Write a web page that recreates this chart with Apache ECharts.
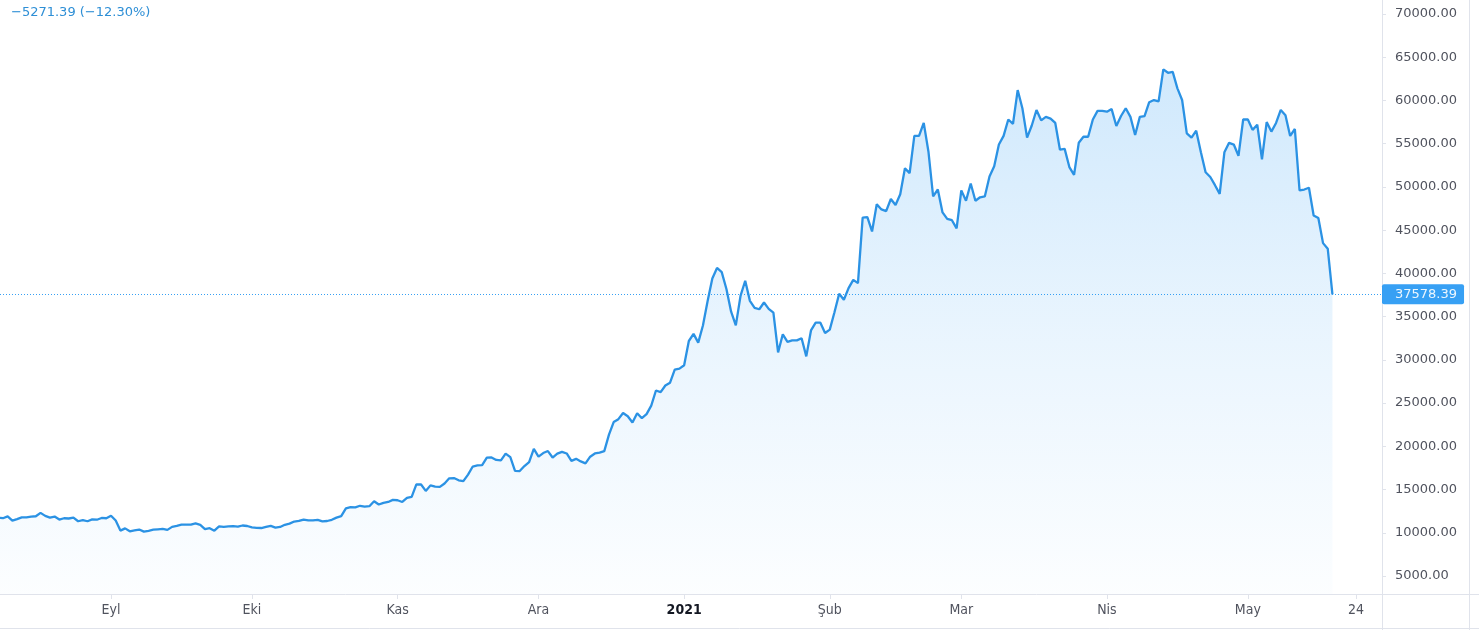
<!DOCTYPE html>
<html><head><meta charset="utf-8">
<script src="https://cdn.jsdelivr.net/npm/echarts@6/dist/echarts.min.js"></script>
<style>html,body{margin:0;padding:0;background:#fff}#c{width:1479px;height:630px}</style>
</head><body><div id="c"></div>
<script>
// ---- data (daily closes) ----
const startDate = '2020-08-07';
const augCloses = [11600,11760,11680,11890,11400,11580,11780,11770,11860,11910,12300,11950,11750,11870,11530,11680,11650,11750,11330,11470,11330,11540,11510,11710,11680];
const sepCloses = [11970,11410,10250,10510,10170,10280,10370,10130,10230,10360,10400,10440,10330,10680,10790,10950,10940,10930,11080,10920,10420,10530,10240,10740,10690,10730,10770,10700,10840,10780];
const octCloses = [10620,10570,10550,10670,10790,10600,10670,10920,11060,11300,11370,11530,11430,11430,11500,11320,11360,11500,11750,11920,12820,12970,12930,13120,13030,13070,13650,13270,13460,13560,13800];
const novCloses = [13760,13560,14030,14150,15590,15580,14840,15480,15330,15300,15700,16300,16330,16070,15970,16730,17660,17800,17820,18680,18710,18420,18370,19160,18740,17150,17140,17720,18180,19700];
const decCloses = [18800,19220,19450,18700,19150,19360,19170,18320,18550,18250,18030,18800,19170,19270,19440,21350,22800,23140,23850,23480,22750,23830,23250,23720,24700,26450,26270,27030,27360,28860,28980];
const janCloses = [29370,32180,33000,31990,33980,36810,39400,40630,40150,38200,35570,33990,37390,39150,36820,36020,35850,36630,35900,35470,30850,32950,32080,32260,32250,32500,30400,33400,34300,34300,33100];
const febCloses = [33500,35500,37650,36950,38300,39250,38870,46450,46500,44850,48000,47400,47200,48600,47900,49150,52150,51600,55900,55900,57400,54100,48900,49700,47050,46300,46150,45200];
const marCloses = [49600,48400,50400,48400,48800,48900,51200,52400,54900,55900,57800,57300,61200,59100,55700,57100,58900,57700,58100,57900,57400,54300,54400,52300,51400,55100,55800,55800,57800,58800,58800];
const aprCloses = [58700,59000,57050,58200,59100,58100,56000,58100,58200,59800,60050,59900,63600,63200,63300,61400,60050,56200,55700,56500,54000,51700,51150,50200,49200,54000,55100,54900,53600,57800];
const mayCloses = [57800,56600,57200,53200,57500,56400,57400,58900,58300,55900,56700,49600,49700,49900,46700,46400,43500,42850,37578.39];

const tickDates = ['2020-09-01','2020-10-01','2020-11-01','2020-12-01','2021-01-01','2021-02-01','2021-03-01','2021-04-01','2021-05-01','2021-05-24'];
const tickLabels = ['Eyl','Eki','Kas','Ara','2021','Şub','Mar','Nis','May','24'];
const priceTicks = [5000,10000,15000,20000,25000,30000,35000,40000,45000,50000,55000,60000,65000,70000];
const changeText = '\u22125271.39 (\u221212.30%)';
const lastPrice = 37578.39;

// ---- build ----
const closes = [].concat(augCloses,sepCloses,octCloses,novCloses,decCloses,janCloses,febCloses,marCloses,aprCloses,mayCloses);
const ORIGIN = Date.UTC(2020,8,1);
function dayOf(s){const p=s.split('-').map(Number);return Math.round((Date.UTC(p[0],p[1]-1,p[2])-ORIGIN)/86400000);}
const startDay = dayOf(startDate);
const seriesData = closes.map((v,i)=>[startDay+i, v]);
const tickDays = tickDates.map(dayOf);

const axisGrey = '#e0e3eb';
const textGrey = '#50535e';
const chart = echarts.init(document.getElementById('c'), null, {renderer:'canvas'});
chart.setOption({
  animation:false,
  backgroundColor:'#ffffff',
  title:{text:changeText,left:11,top:6,padding:0,textStyle:{color:'#2e8fd6',fontSize:13,fontWeight:'normal',fontFamily:'DejaVu Sans'}},
  grid:{left:0,right:97,top:0,bottom:36},
  xAxis:{
    type:'value',min:-23.63,max:270.55,
    axisLine:{show:true,onZero:false,lineStyle:{color:axisGrey}},
    axisTick:{show:true,customValues:tickDays,length:5,lineStyle:{color:axisGrey}},
    splitLine:{show:false},
    axisLabel:{customValues:tickDays,margin:9,color:textGrey,fontSize:14,
      fontFamily:"'Liberation Sans Narrow','DejaVu Sans Condensed',sans-serif",
      formatter:function(v){const i=tickDays.indexOf(Math.round(v));const t=tickLabels[i];return t==='2021'?'{b|2021}':t;},
      rich:{b:{fontWeight:'bold',fontSize:14,color:'#131722',fontFamily:"'Liberation Sans Narrow','DejaVu Sans Condensed',sans-serif"}}}
  },
  yAxis:{
    type:'value',position:'right',min:2917,max:71619,
    axisLine:{show:true,onZero:false,lineStyle:{color:axisGrey}},
    axisTick:{show:true,customValues:priceTicks,length:4,lineStyle:{color:axisGrey}},
    splitLine:{show:false},
    axisLabel:{customValues:priceTicks,margin:13,color:textGrey,fontSize:13,fontFamily:'DejaVu Sans',
      formatter:function(v){return v.toFixed(2);}}
  },
  series:[{
    type:'line',data:seriesData,showSymbol:false,symbol:'none',clip:true,
    lineStyle:{color:'#2b92e4',width:2.3},
    areaStyle:{color:new echarts.graphic.LinearGradient(0,0,0,1,[
      {offset:0,color:'rgba(33,150,243,0.30)'},
      {offset:0.5,color:'rgba(33,150,243,0.14)'},
      {offset:1,color:'rgba(33,150,243,0.02)'}])},
    markLine:{silent:true,symbol:'none',
      lineStyle:{color:'#2196f3',type:[1,2],width:1,opacity:0.9},
      label:{show:true,position:'end',distance:0,formatter:lastPrice.toFixed(2),
        backgroundColor:'#2196f3',color:'#ffffff',fontSize:13,fontFamily:'DejaVu Sans',
        padding:[4,7,3,13],borderRadius:2},
      emphasis:{disabled:true},
      data:[{yAxis:lastPrice}]}
  }],
  graphic:[
    {type:'line',shape:{x1:1382,y1:594.5,x2:1479,y2:594.5},style:{stroke:axisGrey,lineWidth:1},silent:true},
    {type:'line',shape:{x1:1382.5,y1:594,x2:1382.5,y2:630},style:{stroke:axisGrey,lineWidth:1},silent:true},
    {type:'line',shape:{x1:0,y1:628.5,x2:1479,y2:628.5},style:{stroke:axisGrey,lineWidth:1},silent:true},
    {type:'line',shape:{x1:1469.5,y1:0,x2:1469.5,y2:630},style:{stroke:axisGrey,lineWidth:1},silent:true}
  ]
});
</script></body></html>
